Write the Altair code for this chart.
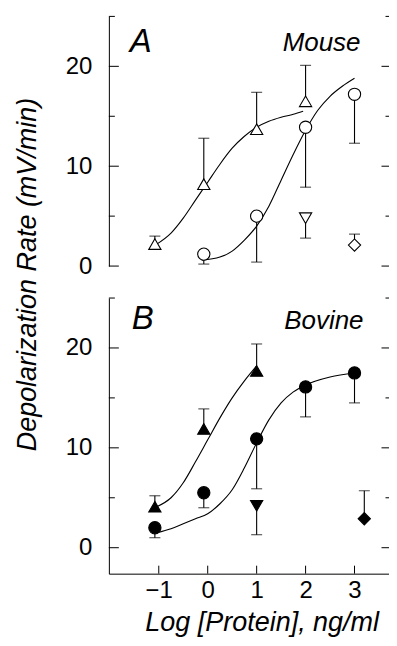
import altair as alt
import pandas as pd

FONT = "Liberation Sans"

# ---------------- data ----------------
# Panel A (Mouse): open symbols
a_tri_x = [-1.08, -0.08, 1.0, 2.0]
a_tri_y = [2.2, 8.2, 13.7, 16.5]
a_tri_err = [3.0, 12.8, 17.4, 20.1]

a_circ_x = [-0.08, 1.0, 2.0, 3.0]
a_circ_y = [1.2, 5.0, 13.9, 17.2]
a_circ_err = [0.2, 0.4, 7.9, 12.3]

a_inv_x = [2.0]
a_inv_y = [4.8]
a_inv_err = [2.8]

a_dia_x = [3.0]
a_dia_y = [2.1]
a_dia_err = [3.2]

a_tri_fit_x = [-1.04, -0.75, -0.5, -0.25, 0.0, 0.25, 0.5, 0.75, 1.0, 1.25, 1.5, 1.75, 1.95]
a_tri_fit_y = [2.2, 3.3, 4.8, 6.6, 8.4, 10.2, 11.8, 13.0, 13.9, 14.5, 14.9, 15.2, 15.5]

a_circ_fit_x = [-0.12, 0.25, 0.5, 0.75, 1.0, 1.25, 1.5, 1.75, 2.0, 2.25, 2.5, 2.75, 3.0]
a_circ_fit_y = [0.6, 0.9, 1.5, 2.6, 4.0, 6.0, 8.6, 11.2, 13.6, 15.6, 17.0, 18.0, 18.8]

# Panel B (Bovine): filled symbols
b_tri_x = [-1.08, -0.08, 1.0]
b_tri_y = [4.1, 11.9, 17.7]
b_tri_err = [5.2, 13.9, 20.4]

b_circ_x = [-1.08, -0.08, 1.0, 2.0, 3.0]
b_circ_y = [2.0, 5.5, 10.9, 16.1, 17.5]
b_circ_err = [1.0, 4.0, 5.9, 13.1, 14.5]

b_inv_x = [1.0]
b_inv_y = [4.2]
b_inv_err = [1.3]

b_dia_x = [3.2]
b_dia_y = [2.9]
b_dia_err = [5.7]

b_tri_fit_x = [-1.04, -0.75, -0.5, -0.25, 0.0, 0.25, 0.5, 0.75, 1.0]
b_tri_fit_y = [4.1, 5.0, 6.5, 8.6, 10.8, 13.0, 15.0, 16.7, 18.2]

b_circ_fit_x = [-1.04, -0.75, -0.5, -0.25, 0.0, 0.25, 0.5, 0.75, 1.0, 1.25, 1.5, 1.75, 2.0, 2.5, 3.0]
b_circ_fit_y = [1.5, 1.9, 2.4, 2.9, 3.4, 4.4, 5.8, 8.0, 10.5, 12.8, 14.5, 15.6, 16.3, 17.1, 17.5]

x_ticks = [-1, 0, 1, 2, 3]
y_major = [0, 10, 20]
y_minor = [5, 15, 25]

X_DOMAIN = [-2.02, 3.715]
W = 281
HA = 250
HB = 276


def pts_frame(groups):
    rows = []
    for xs, ys, es, shape, fill in groups:
        for x, y, e in zip(xs, ys, es):
            rows.append({"x": x, "y": y, "err": e, "shape": shape, "fill": fill})
    return pd.DataFrame(rows)


def fit_frame(groups):
    rows = []
    for name, xs, ys in groups:
        for x, y in zip(xs, ys):
            rows.append({"series": name, "x": x, "y": y})
    return pd.DataFrame(rows)


def panel(pts, fits, height, ydom, letter, species, show_x, ytitle, lpos, spos):
    xs = alt.Scale(domain=X_DOMAIN, nice=False, zero=False)
    ys = alt.Scale(domain=ydom, nice=False, zero=False)
    if show_x:
        xaxis = alt.Axis(values=x_ticks, ticks=False, domain=True, domainColor="black",
                         domainWidth=1, labelFont=FONT, labelFontSize=24, labelColor="black",
                         labelPadding=5, labelFlush=False, grid=False,
                         title="Log [Protein], ng/ml", titleFont=FONT, titleFontSize=27,
                         titleFontStyle="italic", titleFontWeight="normal", titleColor="black",
                         titleAlign="center", titleBaseline="alphabetic",
                         titleX=153, titleY=57)
    else:
        xaxis = None
    yargs = dict(values=y_major, ticks=False, domain=True, domainColor="black", domainWidth=1,
                 labelFont=FONT, labelFontSize=24, labelColor="black", labelPadding=17,
                 labelFlush=False, grid=False)
    if ytitle:
        yaxis = alt.Axis(title=ytitle, titleFont=FONT, titleFontSize=27, titleFontStyle="italic",
                         titleFontWeight="normal", titleColor="black", titleAngle=270,
                         titleAlign="center", titleBaseline="alphabetic",
                         titleX=-73, titleY=-24, **yargs)
    else:
        yaxis = alt.Axis(title=None, **yargs)

    def X(f):
        return alt.X(f, type="quantitative", scale=xs, axis=xaxis)

    def Y(f):
        return alt.Y(f, type="quantitative", scale=ys, axis=yaxis)

    fit = alt.Chart(fits).mark_line(color="black", strokeWidth=1.1, interpolate="monotone").encode(
        x=X("x"), y=Y("y"), detail="series:N")
    bars = alt.Chart(pts).mark_rule(color="black", strokeWidth=1.1).encode(
        x=X("x"), y=Y("y"), y2="err:Q")
    caps = alt.Chart(pts).mark_tick(color="black", thickness=1.1, size=11, orient="horizontal").encode(
        x=X("x"), y=Y("err"))
    points = alt.Chart(pts).mark_point(filled=True, stroke="black", strokeWidth=1.1, opacity=1,
                                       size=150).encode(
        x=X("x"), y=Y("y"),
        shape=alt.Shape("shape:N", scale=alt.Scale(
            domain=["tri", "circ", "inv", "dia"],
            range=["triangle-up", "circle", "triangle-down", "diamond"]), legend=None),
        fill=alt.Fill("fill:N", scale=alt.Scale(domain=["open", "solid"], range=["white", "black"]),
                      legend=None))

    ymaj = pd.DataFrame({"v": y_major})
    ymin = pd.DataFrame({"v": y_minor})
    lmaj = alt.Chart(ymaj).mark_rule(color="black", strokeWidth=1).encode(
        y=Y("v"), x=alt.value(0), x2=alt.value(10))
    lmin = alt.Chart(ymin).mark_rule(color="black", strokeWidth=1).encode(
        y=Y("v"), x=alt.value(0), x2=alt.value(6))
    rmaj = alt.Chart(ymaj).mark_rule(color="black", strokeWidth=1).encode(
        y=Y("v"), x=alt.value(W - 8), x2=alt.value(W))
    rmin = alt.Chart(ymin).mark_rule(color="black", strokeWidth=1).encode(
        y=Y("v"), x=alt.value(W - 4), x2=alt.value(W))

    lab = pd.DataFrame({"t": [letter]})
    sp = pd.DataFrame({"t": [species]})
    t1 = alt.Chart(lab).mark_text(font=FONT, fontSize=33, fontStyle="italic", align="left",
                                  baseline="alphabetic", color="black").encode(
        text="t:N", x=alt.value(lpos[0]), y=alt.value(lpos[1]))
    t2 = alt.Chart(sp).mark_text(font=FONT, fontSize=26, fontStyle="italic", align="right",
                                 baseline="alphabetic", color="black").encode(
        text="t:N", x=alt.value(spos[0]), y=alt.value(spos[1]))

    layers = [fit, bars, caps, points, lmaj, lmin, rmaj, rmin, t1, t2]
    if show_x:
        xt = pd.DataFrame({"v": x_ticks})
        btk = alt.Chart(xt).mark_rule(color="black", strokeWidth=1).encode(
            x=X("v"), y=alt.value(height - 8), y2=alt.value(height))
        layers.append(btk)
    return alt.layer(*layers).properties(width=W, height=height)


ptsA = pts_frame([
    (a_tri_x, a_tri_y, a_tri_err, "tri", "open"),
    (a_circ_x, a_circ_y, a_circ_err, "circ", "open"),
    (a_inv_x, a_inv_y, a_inv_err, "inv", "open"),
    (a_dia_x, a_dia_y, a_dia_err, "dia", "open"),
])
fitA = fit_frame([("tri", a_tri_fit_x, a_tri_fit_y), ("circ", a_circ_fit_x, a_circ_fit_y)])

ptsB = pts_frame([
    (b_tri_x, b_tri_y, b_tri_err, "tri", "solid"),
    (b_circ_x, b_circ_y, b_circ_err, "circ", "solid"),
    (b_inv_x, b_inv_y, b_inv_err, "inv", "solid"),
    (b_dia_x, b_dia_y, b_dia_err, "dia", "solid"),
])
fitB = fit_frame([("tri", b_tri_fit_x, b_tri_fit_y), ("circ", b_circ_fit_x, b_circ_fit_y)])

pA = panel(ptsA, fitA, HA, [0, 25], "A", "Mouse", False, None, (21, 36), (252, 35))
pB = panel(ptsB, fitB, HB, [-2.6, 25], "B", "Bovine", True, "Depolarization Rate (mV/min)",
           (23, 31), (255, 31))

chart = alt.vconcat(pA, pB, spacing=32, bounds="flush").configure_view(stroke=None).properties(
    padding={"left": 5, "top": 7, "right": -1.5, "bottom": 1}, background="white")

chart.save("out.html", embed_options={"renderer": "svg", "actions": False})
